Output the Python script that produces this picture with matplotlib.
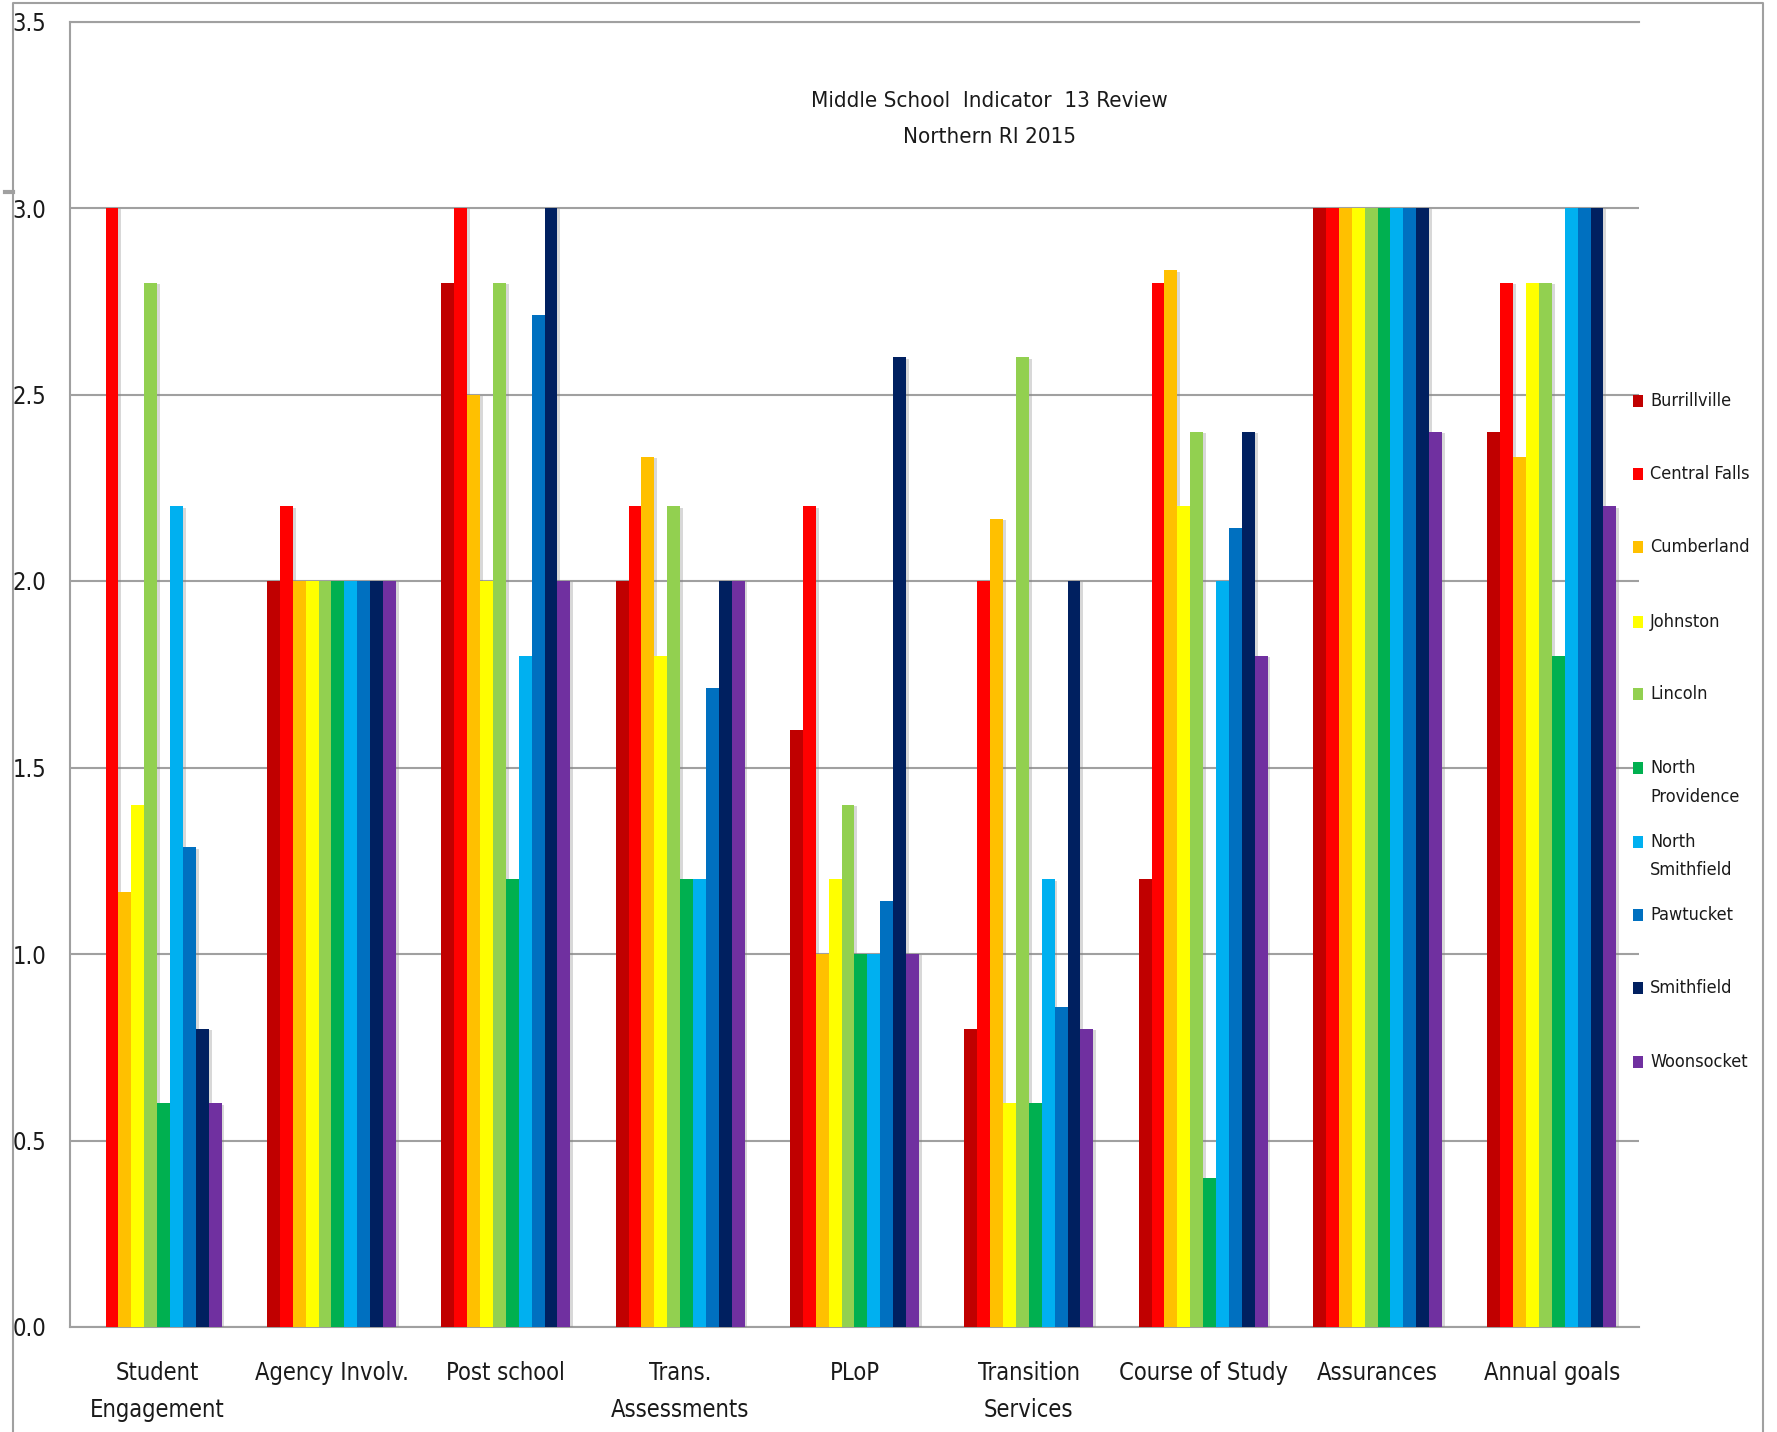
import matplotlib
matplotlib.use("Agg")
import matplotlib.pyplot as plt
import matplotlib.patheffects as pe
from matplotlib import font_manager
from matplotlib.patches import Rectangle
from matplotlib.lines import Line2D
import numpy as np

# pick a narrow face if one is around
narrow = None
for f in font_manager.fontManager.ttflist:
    if f.stretch in ('condensed', 'semi-condensed', 'extra-condensed', 550, 500, 600, 400, 300) \
            and 'Mono' not in f.name and f.style == 'normal':
        narrow = f.name
        break
fams = ([narrow] if narrow else []) + ['Liberation Sans', 'DejaVu Sans']
plt.rcParams['font.family'] = fams
plt.rcParams['font.stretch'] = 'condensed'

categories = ["Student\nEngagement", "Agency Involv.", "Post school", "Trans.\nAssessments",
              "PLoP", "Transition\nServices", "Course of Study", "Assurances", "Annual goals"]

districts = ["Burrillville", "Central Falls", "Cumberland", "Johnston", "Lincoln",
             "North\nProvidence", "North\nSmithfield", "Pawtucket", "Smithfield", "Woonsocket"]
colors = ["#C00000", "#FF0000", "#FFC000", "#FFFF00", "#92D050",
          "#00B050", "#00B0F0", "#0070C0", "#002060", "#7030A0"]

# one list per district, in category order
burrillville = [0.0, 2.0, 2.8, 2.0, 1.6, 0.8, 1.2, 3.0, 2.4]
central_falls = [3.0, 2.2, 3.0, 2.2, 2.2, 2.0, 2.8, 3.0, 2.8]
cumberland = [1.167, 2.0, 2.5, 2.333, 1.0, 2.167, 2.833, 3.0, 2.333]
johnston = [1.4, 2.0, 2.0, 1.8, 1.2, 0.6, 2.2, 3.0, 2.8]
lincoln = [2.8, 2.0, 2.8, 2.2, 1.4, 2.6, 2.4, 3.0, 2.8]
north_providence = [0.6, 2.0, 1.2, 1.2, 1.0, 0.6, 0.4, 3.0, 1.8]
north_smithfield = [2.2, 2.0, 1.8, 1.2, 1.0, 1.2, 2.0, 3.0, 3.0]
pawtucket = [1.286, 2.0, 2.714, 1.714, 1.143, 0.857, 2.143, 3.0, 3.0]
smithfield = [0.8, 2.0, 3.0, 2.0, 2.6, 2.0, 2.4, 3.0, 3.0]
woonsocket = [0.6, 2.0, 2.0, 2.0, 1.0, 0.8, 1.8, 2.4, 2.2]

series = [burrillville, central_falls, cumberland, johnston, lincoln,
          north_providence, north_smithfield, pawtucket, smithfield, woonsocket]

W, H = 1777, 1432
fig = plt.figure(figsize=(W / 100, H / 100), dpi=100)
ax = fig.add_axes([70 / W, 1 - 1327 / H, (1639 - 70) / W, (1327 - 21.5) / H])

x = np.arange(len(categories))
n = len(series)
bw = 0.74 / n
shadow = [pe.SimplePatchShadow(offset=(2, -1), shadow_rgbFace='#808080', alpha=0.3), pe.Normal()]
for i, (vals, c) in enumerate(zip(series, colors)):
    bars = ax.bar(x - 0.37 + bw * (i + 0.5), vals, width=bw, color=c, zorder=3)
    for b in bars:
        if b.get_height() > 0:
            b.set_path_effects(shadow)

ax.set_xlim(-0.5, len(categories) - 0.5)
ax.set_ylim(0, 3.5)
ax.set_yticks(np.arange(0, 3.51, 0.5))
ax.set_yticklabels([f"{v:.1f}" for v in np.arange(0, 3.51, 0.5)])
ax.yaxis.grid(True, color='#a0a0a0', linewidth=1.5, zorder=0)
ax.set_axisbelow(True)
ax.tick_params(axis='y', length=0, pad=17, labelsize=17, labelcolor='#1a1a1a')
ax.set_xticks(x)
ax.set_xticklabels(categories, fontsize=17, linespacing=1.7, va='top', color='#1a1a1a')
ax.tick_params(axis='x', length=0, pad=24.5)

ax.spines['right'].set_visible(False)
for s in ['left', 'bottom', 'top']:
    ax.spines[s].set_color('#a0a0a0')
    ax.spines[s].set_linewidth(1.5)

ax.text(0.586, 0.925, "Middle School  Indicator  13 Review\nNorthern RI 2015",
        transform=ax.transAxes, ha='center', va='center', fontsize=16, linespacing=2.0,
        color='#1a1a1a')

# legend on the right
leg_y = [401, 474, 547, 622, 694, 768, 842, 915, 988, 1062]
for name, c, yy in zip(districts, colors, leg_y):
    fig.patches.append(Rectangle((1633 / W, 1 - (yy + 6) / H), 10 / W, 12 / H,
                                 transform=fig.transFigure, facecolor=c, edgecolor='none'))
    fig.text(1650 / W, 1 - (yy - 9) / H, name, fontsize=13, va='top', ha='left',
             linespacing=1.75, color='#1a1a1a')

# outer chart border
fig.lines.append(Line2D([13 / W, 13 / W, 1763 / W, 1763 / W],
                        [-0.01, 1 - 3 / H, 1 - 3 / H, -0.01],
                        transform=fig.transFigure, color='#a0a0a0', linewidth=1.5))
fig.lines.append(Line2D([5 / W, 13 / W], [1 - 192 / H, 1 - 192 / H],
                        transform=fig.transFigure, color='#a0a0a0', linewidth=3))

fig.savefig("out.png", dpi=100)
